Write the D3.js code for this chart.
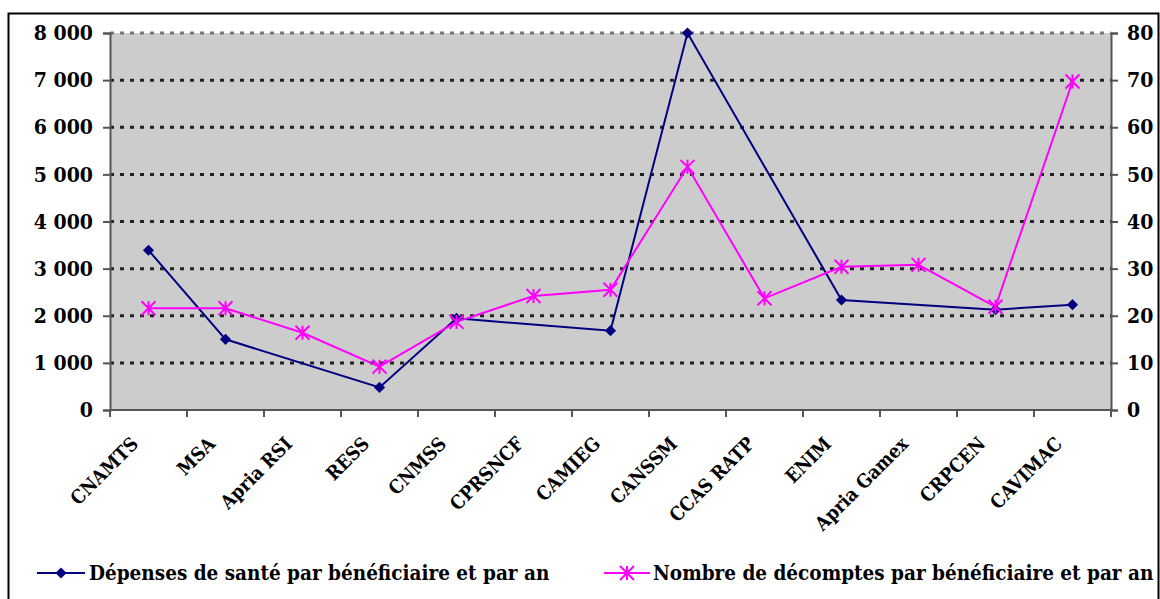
<!DOCTYPE html>
<html lang="fr">
<head>
<meta charset="UTF-8" />
<title>Dépenses et décomptes par bénéficiaire</title>
<script src="https://d3js.org/d3.v7.min.js"></script>
<style>
  body { margin: 0; background: #fff; }
  svg text { font-family: "DejaVu Serif Condensed", "DejaVu Serif", serif; font-stretch: condensed; font-weight: bold; fill: #000; }
</style>
</head>
<body>
<div id="chart"></div>
<script>
// régimes
const regimes = ["CNAMTS", "MSA", "Apria RSI", "RESS", "CNMSS", "CPRSNCF", "CAMIEG",
  "CANSSM", "CCAS RATP", "ENIM", "Apria Gamex", "CRPCEN", "CAVIMAC"];
// dépenses (axe gauche), null = pas de valeur
const depenses = [3390, 1500, null, 480, 1945, null, 1683, 8000, null, 2334, null, 2129, 2235];
// décomptes (axe droit)
const decomptes = [21.6, 21.6, 16.4, 9.2, 18.7, 24.2, 25.5, 51.6, 23.7, 30.4, 30.8, 21.9, 69.7];
const leftTicks = [0, 1000, 2000, 3000, 4000, 5000, 6000, 7000, 8000];
const rightTicks = [0, 10, 20, 30, 40, 50, 60, 70, 80];
const legendLabels = ["Dépenses de santé par bénéficiaire et par an",
  "Nombre de décomptes par bénéficiaire et par an"];

const W = 1160, H = 599;
const plot = { left: 110, right: 1111, top: 33, bottom: 410 };

const svg = d3.select("#chart").append("svg")
  .attr("width", W).attr("height", H);

// cadre extérieur
svg.append("path")
  .attr("d", `M8.5,${H} V13.5 H1158.5 V${H}`)
  .attr("fill", "none").attr("stroke", "#000").attr("stroke-width", 2);

const x = d3.scaleBand().domain(regimes).range([plot.left, plot.right]);
const yL = d3.scaleLinear().domain([0, 8000]).range([plot.bottom, plot.top]);
const yR = d3.scaleLinear().domain([0, 80]).range([plot.bottom, plot.top]);

svg.append("rect")
  .attr("x", plot.left).attr("y", plot.top)
  .attr("width", plot.right - plot.left).attr("height", plot.bottom - plot.top)
  .attr("fill", "#cccccc");

// grille pointillée
svg.append("g").selectAll("line")
  .data(leftTicks.filter(d => d > 0))
  .join("line")
  .attr("x1", plot.left).attr("x2", plot.right)
  .attr("y1", d => yL(d)).attr("y2", d => yL(d))
  .attr("stroke", d => d === 8000 ? "#777" : "#222")
  .attr("stroke-width", 3)
  .attr("stroke-dasharray", "4,6");

// axes
const axisColor = "#555";
const fmt = d => d3.format(",")(d).replace(/,/g, " ");

const gl = svg.append("g").attr("transform", `translate(${plot.left},0)`)
  .call(d3.axisLeft(yL).tickValues(leftTicks).tickSize(7).tickPadding(10).tickFormat(fmt));
const gr = svg.append("g").attr("transform", `translate(${plot.right},0)`)
  .call(d3.axisRight(yR).tickValues(rightTicks).tickSize(7).tickPadding(9));
[gl, gr].forEach(g => {
  g.selectAll("path, line").attr("stroke", axisColor).attr("stroke-width", 2);
  g.selectAll("text").attr("font-size", 21).attr("font-family", null);
});

const gx = svg.append("g").attr("transform", `translate(0,${plot.bottom})`);
gx.append("line")
  .attr("x1", plot.left).attr("x2", plot.right)
  .attr("stroke", axisColor).attr("stroke-width", 2);
gx.selectAll(".tk")
  .data(regimes.concat(["end"]))
  .join("line")
  .attr("x1", (d, i) => i < regimes.length ? x(d) : plot.right)
  .attr("x2", (d, i) => i < regimes.length ? x(d) : plot.right)
  .attr("y1", 0).attr("y2", 7)
  .attr("stroke", axisColor).attr("stroke-width", 2);
gx.selectAll("text")
  .data(regimes)
  .join("text")
  .attr("transform", d => `translate(${x(d) + x.bandwidth() / 2 - 9},${35}) rotate(-45)`)
  .attr("text-anchor", "end")
  .attr("font-size", 19)
  .text(d => d);

// séries
const cx = (d, i) => x(regimes[i]) + x.bandwidth() / 2;
const blue = "#000080", pink = "#ff00ff";

const depPts = depenses.map((v, i) => ({ x: cx(v, i), v })).filter(d => d.v != null);
svg.append("path")
  .attr("d", d3.line().x(d => d.x).y(d => yL(d.v))(depPts))
  .attr("fill", "none").attr("stroke", blue).attr("stroke-width", 2);

const decPts = decomptes.map((v, i) => ({ x: cx(v, i), v }));
svg.append("path")
  .attr("d", d3.line().x(d => d.x).y(d => yR(d.v))(decPts))
  .attr("fill", "none").attr("stroke", pink).attr("stroke-width", 2);

const diamond = d3.symbol().type(d3.symbolDiamond2).size(80);
function star(g) {
  const s = 7;
  g.append("path")
    .attr("d", `M0,${-s}V${s}M${-s},${-s}L${s},${s}M${s},${-s}L${-s},${s}`)
    .attr("stroke", pink).attr("stroke-width", 2).attr("fill", "none");
}

svg.append("g").selectAll("path")
  .data(depPts)
  .join("path")
  .attr("transform", d => `translate(${d.x},${yL(d.v)})`)
  .attr("d", diamond).attr("fill", blue);

svg.append("g").selectAll("g")
  .data(decPts)
  .join("g")
  .attr("transform", d => `translate(${d.x},${yR(d.v)})`)
  .each(function () { star(d3.select(this)); });

// légende
const legY = 573;
const lg1 = svg.append("g").attr("transform", `translate(37,${legY})`);
lg1.append("line").attr("x1", 0).attr("x2", 48).attr("stroke", blue).attr("stroke-width", 2);
lg1.append("path").attr("transform", "translate(24,0)").attr("d", diamond).attr("fill", blue);
lg1.append("text").attr("x", 52).attr("y", 7).attr("font-size", 20.5).text(legendLabels[0]);

const lg2 = svg.append("g").attr("transform", `translate(604,${legY})`);
lg2.append("line").attr("x1", 0).attr("x2", 46).attr("stroke", pink).attr("stroke-width", 2);
star(lg2.append("g").attr("transform", "translate(23,0)"));
lg2.append("text").attr("x", 49).attr("y", 7).attr("font-size", 20.5).text(legendLabels[1]);
</script>
</body>
</html>
